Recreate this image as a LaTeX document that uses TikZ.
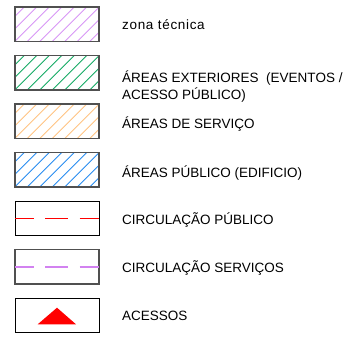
\documentclass[tikz,border=0pt]{standalone}
\usepackage{fontspec}
\setmainfont{Liberation Sans}
\definecolor{hpurple}{RGB}{215,150,245}
\definecolor{hgreen}{RGB}{20,170,100}
\definecolor{horange}{RGB}{255,195,130}
\definecolor{hblue}{RGB}{40,140,240}
\definecolor{dmagenta}{RGB}{210,130,240}
\definecolor{boxgray}{RGB}{80,80,80}
\tikzset{
  legbox/.style={draw=boxgray, line width=1.2pt, minimum width=84pt, minimum height=34.5pt, inner sep=0pt, outer sep=0pt},
  hatch/.style={path picture={
    \foreach \k in {-10,...,10}{
      \draw[#1, line width=0.8pt]
        ([xshift=\k*12.5pt-40pt, yshift=-40pt]path picture bounding box.center) -- ++(80pt,80pt);
    }}},
  lab/.style={anchor=base west, inner sep=0pt, font=\fontsize{13.5}{17.5}\selectfont},
  dashline/.style={dash pattern=on 22.7pt off 11.6pt, dash phase=4pt}
}
\begin{document}
\begin{tikzpicture}[x=1pt,y=-1pt]
\useasboundingbox (0,0) rectangle (351,338);
% boxes
\node[legbox, hatch=hpurple] (b1) at (57,24.25) {};
\node[legbox, hatch=hgreen]  (b2) at (57,72.75) {};
\node[legbox, hatch=horange] (b3) at (57,121.25) {};
\node[legbox, hatch=hblue]   (b4) at (57,169.75) {};
\node[legbox, draw=black, line width=1pt] (b5) at (57,218.25) {};
\node[legbox] (b6) at (57,266.75) {};
\node[legbox, draw=black, line width=1pt] (b7) at (57,315.25) {};
% circulation lines
\draw[red, line width=1pt, dashline] (b5.west) -- (b5.east);
\draw[dmagenta, line width=2pt, dashline] (b6.west) -- (b6.east);
% access triangle
\fill[red] (37.7,324.3) -- (57,307.7) -- (76,324.3) -- cycle;
% labels
\node[lab, font=\fontsize{13.5}{17.5}\selectfont\addfontfeature{LetterSpace=5}] (t1) at (122,29) {zona técnica};
\node[lab] (t2) at (122,82) {ÁREAS EXTERIORES\ \ (EVENTOS /};
\node[lab] (t2b) at (122,99.5) {ACESSO PÚBLICO)};
\node[lab] (t3) at (122,128.5) {ÁREAS DE SERVIÇO};
\node[lab] (t4) at (122,177.3) {ÁREAS PÚBLICO (EDIFICIO)};
\node[lab] (t5) at (122,224.3) {CIRCULAÇÃO PÚBLICO};
\node[lab] (t6) at (122,272.7) {CIRCULAÇÃO SERVIÇOS};
\node[lab] (t7) at (122,320.7) {ACESSOS};
\end{tikzpicture}
\end{document}
